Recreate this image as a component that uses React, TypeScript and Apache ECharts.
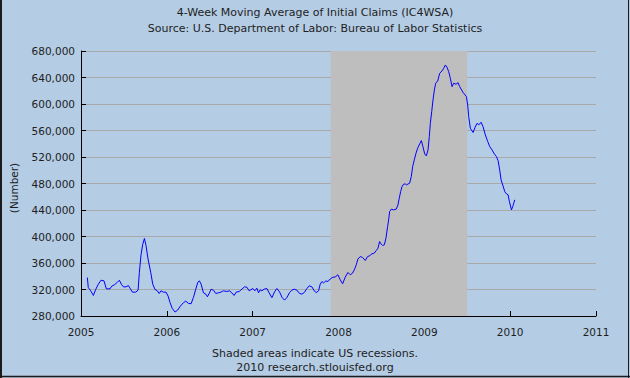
import React, { useEffect, useRef } from "react";
import * as echarts from "echarts";

const titleLines = [
  "4-Week Moving Average of Initial Claims (IC4WSA)",
  "Source: U.S. Department of Labor: Bureau of Labor Statistics",
];
const footerLines = ["Shaded areas indicate US recessions.", "2010 research.stlouisfed.org"];
const yAxisName = "(Number)";

// Recession (decimal years)
const recessionStart = 2007.91;
const recessionEnd = 2009.5;

// Dates as decimal years
const years = [
  2005.074, 2005.085, 2005.113, 2005.144, 2005.171, 2005.202, 2005.233, 2005.268, 2005.295, 2005.338,
  2005.358, 2005.389, 2005.424, 2005.447, 2005.47, 2005.494, 2005.525, 2005.552, 2005.571, 2005.599,
  2005.638, 2005.665, 2005.68, 2005.7, 2005.719, 2005.739, 2005.758, 2005.781, 2005.812, 2005.836,
  2005.863, 2005.89, 2005.91, 2005.933, 2005.96, 2005.991, 2006.015,
  2006.038, 2006.065, 2006.096, 2006.127, 2006.158, 2006.193, 2006.221, 2006.252, 2006.283, 2006.31,
  2006.337, 2006.361, 2006.38, 2006.399, 2006.427, 2006.454, 2006.473, 2006.497, 2006.516, 2006.543,
  2006.57, 2006.602, 2006.629, 2006.66, 2006.699, 2006.73, 2006.757, 2006.784, 2006.808, 2006.843,
  2006.874, 2006.905, 2006.932, 2006.959,
  2007.002, 2007.025, 2007.049, 2007.068, 2007.087, 2007.107, 2007.134, 2007.165, 2007.192, 2007.224,
  2007.255, 2007.282, 2007.313, 2007.344, 2007.371, 2007.398, 2007.43, 2007.457, 2007.484, 2007.515,
  2007.546, 2007.573, 2007.601, 2007.632, 2007.659, 2007.69, 2007.717, 2007.741, 2007.768, 2007.787,
  2007.807, 2007.826, 2007.853, 2007.877, 2007.904, 2007.935, 2007.962, 2007.993,
  2008.02, 2008.048, 2008.079, 2008.11, 2008.137, 2008.164, 2008.188, 2008.207, 2008.226, 2008.254,
  2008.281, 2008.312, 2008.339, 2008.362, 2008.39, 2008.417, 2008.44, 2008.46, 2008.479, 2008.495,
  2008.514, 2008.534, 2008.553, 2008.572, 2008.584, 2008.596, 2008.615, 2008.642, 2008.673, 2008.693,
  2008.708, 2008.724, 2008.74, 2008.759, 2008.778, 2008.79, 2008.829, 2008.848, 2008.864, 2008.883,
  2008.903, 2008.922, 2008.946, 2008.965, 2008.984,
  2009.004, 2009.023, 2009.043, 2009.058, 2009.07, 2009.086, 2009.101, 2009.117, 2009.132, 2009.156,
  2009.179, 2009.206, 2009.226, 2009.245, 2009.264, 2009.284, 2009.303, 2009.323, 2009.342, 2009.369,
  2009.393, 2009.412, 2009.451, 2009.49, 2009.505, 2009.517, 2009.536, 2009.568, 2009.591, 2009.614,
  2009.634, 2009.661, 2009.684, 2009.711, 2009.739, 2009.762, 2009.789, 2009.816, 2009.84, 2009.859,
  2009.878, 2009.894, 2009.917, 2009.937, 2009.956, 2009.976, 2009.991,
  2010.015, 2010.03, 2010.042, 2010.053,
];

// Initial claims, 4-week moving average
const claims = [
  338000, 323000, 318000, 311000, 320000, 328000, 334000, 333000, 321000, 321000,
  325000, 327000, 331000, 334000, 328000, 324000, 324000, 326000, 322000, 316000,
  316000, 319000, 346000, 373000, 388000, 397000, 386000, 366000, 346000, 328000,
  320000, 318000, 314000, 318000, 316000, 316000, 310000,
  300000, 291000, 286000, 289000, 295000, 300000, 302500, 299000, 298500, 308000,
  320500, 331000, 333000, 328000, 315000, 313000, 309000, 315000, 320500, 319000,
  314000, 315000, 316000, 318000, 317000, 318000, 315000, 311000, 316000, 317000,
  320500, 324000, 323500, 318000,
  321500, 318000, 322000, 315000, 319500, 318000, 320500, 321500, 315000, 307700,
  316400, 321500, 316400, 307700, 304000, 307700, 315400, 319000, 320500, 319000,
  314000, 313000, 315400, 321500, 325600, 324000, 318000, 315400, 318000, 328000,
  332000, 330000, 333000, 332000, 336000, 338500, 339000, 342200,
  334700, 328600, 338700, 345700, 342200, 344700, 350800, 357300, 365900, 369800,
  368300, 363800, 369800, 370900, 373900, 374900, 378800, 382400, 392400, 388900,
  386400, 387400, 397500, 415000, 425100, 437700, 441300, 440200, 441300, 447800,
  457900, 467800, 475400, 479000, 479400, 477900, 480500, 490500, 505500, 515600,
  525700, 533300, 539800, 544800, 535700,
  524700, 521700, 530700, 550800, 570900, 588500, 606100, 621200, 631300, 634800,
  646400, 649800, 653900, 658900, 655400, 648800, 638800, 626200, 631300, 629800,
  632200, 626200, 617500, 611200, 598600, 580900, 563400, 557000, 564900, 570900,
  568400, 572400, 565800, 553300, 543200, 535700, 530700, 524700, 520600, 514600,
  500500, 485500, 476400, 467800, 464400, 462900, 452800,
  440200, 445200, 450300, 455300,
];

const yearTicks = [2005, 2006, 2007, 2008, 2009, 2010, 2011];
const yMin = 280000;
const yMax = 680000;
const yStep = 40000;

const FONT = "DejaVu Sans";
const TEXT = "#1e1e1e";

export default function App() {
  const ref = useRef<HTMLDivElement>(null);
  useEffect(() => {
    if (!ref.current) return;
    const chart = echarts.init(ref.current, null, { renderer: "svg" });
    const data = years.map((y, i) => [y, claims[i]]);
    chart.setOption({
      animation: false,
      backgroundColor: "#b4cce4",
      grid: { left: 81, top: 51, width: 515, height: 265, containLabel: false },
      xAxis: {
        type: "value",
        min: yearTicks[0],
        max: yearTicks[yearTicks.length - 1],
        interval: 1,
        axisLine: { show: true, lineStyle: { color: "#000", width: 1 } },
        axisTick: { show: true, inside: true, length: 5, lineStyle: { color: "#000" } },
        splitLine: { show: false },
        axisLabel: {
          color: TEXT,
          fontFamily: FONT,
          fontSize: 10.5,
          margin: 10,
          formatter: (v: number) => String(Math.round(v)),
        },
      },
      yAxis: {
        type: "value",
        min: yMin,
        max: yMax,
        interval: yStep,
        axisLine: { show: true, lineStyle: { color: "#000", width: 1 } },
        axisTick: { show: true, inside: true, length: 5, lineStyle: { color: "#000" } },
        splitLine: { show: true, lineStyle: { color: "#a8a8a8", width: 1 } },
        axisLabel: {
          color: TEXT,
          fontFamily: FONT,
          fontSize: 10.5,
          margin: 6,
          formatter: (v: number) => v.toLocaleString("en-US"),
        },
      },
      series: [
        {
          type: "line",
          data: [],
          z: 1,
          silent: true,
          markArea: {
            silent: true,
            itemStyle: { color: "#bebebe", opacity: 1 },
            data: [[{ xAxis: recessionStart }, { xAxis: recessionEnd }]],
          },
        },
        {
          type: "line",
          data,
          z: 3,
          showSymbol: false,
          symbol: "none",
          lineStyle: { color: "#0000ff", width: 1 },
        },
      ],
      graphic: [
        {
          type: "text",
          left: "center",
          top: 7,
          style: { text: titleLines[0], fill: TEXT, font: `11px "${FONT}"` },
        },
        {
          type: "text",
          left: "center",
          top: 23,
          style: { text: titleLines[1], fill: TEXT, font: `11px "${FONT}"` },
        },
        {
          type: "text",
          left: "center",
          top: 348,
          style: { text: footerLines[0], fill: TEXT, font: `11px "${FONT}"` },
        },
        {
          type: "text",
          left: "center",
          top: 362,
          style: { text: footerLines[1], fill: TEXT, font: `11px "${FONT}"` },
        },
        {
          type: "text",
          x: 14,
          y: 188,
          rotation: Math.PI / 2,
          style: {
            text: yAxisName,
            fill: TEXT,
            font: `10.5px "${FONT}"`,
            align: "center",
            verticalAlign: "middle",
          },
        },
        { type: "line", shape: { x1: 1, y1: 0, x2: 1, y2: 378 }, style: { stroke: "#1a1a1a", lineWidth: 2 } },
        { type: "line", shape: { x1: 628.5, y1: 0, x2: 628.5, y2: 378 }, style: { stroke: "#1a1a1a", lineWidth: 1 } },
        { type: "line", shape: { x1: 0, y1: 376.5, x2: 630, y2: 376.5 }, style: { stroke: "#1a1a1a", lineWidth: 1.5 } },
      ],
    });
    return () => chart.dispose();
  }, []);
  return (
    <div
      ref={ref}
      style={{ position: "fixed", left: 0, top: 0, width: 630, height: 378 }}
    />
  );
}
